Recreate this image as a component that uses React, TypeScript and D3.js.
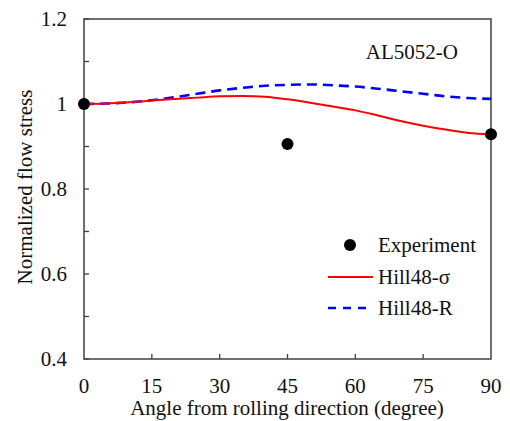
import React from "react";
import * as d3 from "d3";

const angles = [0, 5, 10, 15, 20, 25, 30, 35, 40, 45, 50, 55, 60, 65, 70, 75, 80, 85, 90];
const hillSigma = [1.0, 1.001, 1.004, 1.008, 1.012, 1.015, 1.018, 1.019, 1.017, 1.011, 1.003, 0.994, 0.985, 0.973, 0.96, 0.949, 0.94, 0.932, 0.929];
const hillR = [1.0, 1.001, 1.004, 1.009, 1.016, 1.024, 1.032, 1.038, 1.043, 1.045, 1.046, 1.044, 1.041, 1.036, 1.03, 1.024, 1.018, 1.014, 1.012];
const expAngles = [0, 45, 90];
const expValues = [1.0, 0.906, 0.929];
const xTicks = [0, 15, 30, 45, 60, 75, 90];
const yTicks = [0.4, 0.6, 0.8, 1.0, 1.2];
const yMinor = [0.5, 0.7, 0.9, 1.1];
const legendLabels = ["Experiment", "Hill48-σ", "Hill48-R"];

const W = 510, H = 421;
const L = 84, R = 491, T = 19, B = 359;
const FONT = "'Liberation Serif', 'Times New Roman', serif";
const FS = 21;

export default function App() {
  const x = d3.scaleLinear().domain([0, 90]).range([L, R]);
  const y = d3.scaleLinear().domain([0.4, 1.2]).range([B, T]);
  const line = d3.line<number>().x((_, i) => x(angles[i])).y((d) => y(d)).curve(d3.curveMonotoneX);
  const axisColor = "#404040";
  return (
    <svg width={W} height={H} style={{ position: "absolute", left: 0, top: 0, background: "#fff" }} fontFamily={FONT}>
      <rect x={0} y={0} width={W} height={H} fill="#fff" />
      {xTicks.slice(1, -1).map((t) => (
        <line key={"xt" + t} x1={x(t)} x2={x(t)} y1={B} y2={B - 5} stroke={axisColor} strokeWidth={1.3} />
      ))}
      {yMinor.concat(yTicks).map((t) => (
        <line key={"yt" + t} x1={L} x2={L + 5} y1={y(t)} y2={y(t)} stroke={axisColor} strokeWidth={1.3} />
      ))}
      <rect x={L} y={T} width={R - L} height={B - T} fill="none" stroke={axisColor} strokeWidth={1.5} />
      {xTicks.map((t) => (
        <text key={"xl" + t} x={x(t)} y={393} textAnchor="middle" fontSize={FS} fill="#111">{t}</text>
      ))}
      {yTicks.map((t) => (
        <text key={"yl" + t} x={67} y={y(t) + 7} textAnchor="end" fontSize={FS} fill="#111">{d3.format("")(+t.toFixed(1))}</text>
      ))}
      <text x={287} y={415} textAnchor="middle" fontSize={FS} fill="#111">Angle from rolling direction (degree)</text>
      <text transform={`translate(32, 187) rotate(-90)`} textAnchor="middle" fontSize={FS} fill="#111">Normalized flow stress</text>
      <text x={458} y={59} textAnchor="end" fontSize={FS} fill="#111">AL5052-O</text>
      <path d={line(hillR) || ""} fill="none" stroke="#0000ff" strokeWidth={2.6} strokeDasharray="10,6" />
      <path d={line(hillSigma) || ""} fill="none" stroke="#ff0000" strokeWidth={2} />
      {expAngles.map((a, i) => (
        <circle key={"p" + a} cx={x(a)} cy={y(expValues[i])} r={6} fill="#000" />
      ))}
      <circle cx={350} cy={245} r={6} fill="#000" />
      <text x={378} y={252} fontSize={FS} fill="#111">{legendLabels[0]}</text>
      <line x1={328} x2={373} y1={277} y2={277} stroke="#ff0000" strokeWidth={2} />
      <text x={378} y={284} fontSize={FS} fill="#111">{legendLabels[1]}</text>
      <line x1={328} x2={373} y1={308} y2={308} stroke="#0000ff" strokeWidth={2.6} strokeDasharray="8,7" />
      <text x={378} y={315} fontSize={FS} fill="#111">{legendLabels[2]}</text>
    </svg>
  );
}
